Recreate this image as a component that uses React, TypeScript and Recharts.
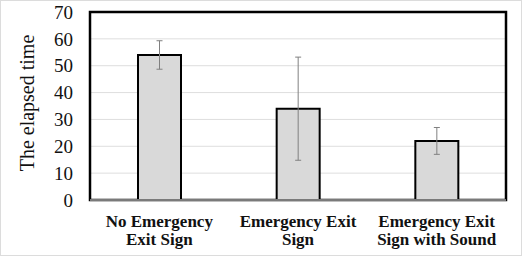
import React from "react";
import {
  BarChart,
  Bar,
  XAxis,
  YAxis,
  CartesianGrid,
  ErrorBar,
  ReferenceArea,
} from "recharts";

// Mean elapsed time per condition, with the spread shown as error bars
const categoryLines: string[][] = [
  ["No Emergency", "Exit Sign"],
  ["Emergency Exit", "Sign"],
  ["Emergency Exit", "Sign with Sound"],
];
const elapsedMeans = [54, 34, 22];
const elapsedErrors = [5.3, 19.2, 5];
const yTicks = [0, 10, 20, 30, 40, 50, 60, 70];

const data = categoryLines.map((lines, i) => ({
  name: lines.join("\n"),
  mean: elapsedMeans[i],
  err: elapsedErrors[i],
}));

const SERIF = '"Liberation Serif", "Times New Roman", Times, serif';

function CategoryTick(props: any) {
  const { x, y, payload } = props;
  const lines = String(payload.value).split("\n");
  return (
    <g>
      {lines.map((line: string, i: number) => (
        <text
          key={i}
          x={x}
          y={y + 27 + i * 18}
          textAnchor="middle"
          fontFamily={SERIF}
          fontSize={17}
          fontWeight="bold"
          fill="#111"
        >
          {line}
        </text>
      ))}
    </g>
  );
}

export default function App() {
  return (
    <div
      style={{
        position: "absolute",
        left: 0,
        top: 0,
        width: 522,
        height: 256,
        border: "1px solid #dcdcdc",
        boxSizing: "border-box",
        background: "#fff",
      }}
    >
      <BarChart
        width={520}
        height={254}
        data={data}
        margin={{ top: 11, right: 15, bottom: 0, left: 0 }}
      >
        <CartesianGrid vertical={false} stroke="#dedede" strokeWidth={1} />
        <XAxis
          dataKey="name"
          height={55}
          tickLine={false}
          tickSize={0}
          tickMargin={0}
          axisLine={{ stroke: "#7a7a7a", strokeWidth: 2 }}
          tick={<CategoryTick />}
          interval={0}
        />
        <YAxis
          width={89}
          domain={[0, 70]}
          ticks={yTicks}
          interval={0}
          axisLine={false}
          tickLine={false}
          tickSize={0}
          tickMargin={17}
          tick={{ fontFamily: SERIF, fontSize: 19, fill: "#111" }}
          label={({ viewBox }: any) => {
            const cx = (viewBox?.x ?? 0) + 26;
            const cy = (viewBox?.y ?? 0) + (viewBox?.height ?? 0) / 2 - 3;
            return (
              <text
                x={cx}
                y={cy}
                transform={`rotate(-90 ${cx} ${cy})`}
                textAnchor="middle"
                dominantBaseline="central"
                fontFamily={SERIF}
                fontSize={20}
                fill="#111"
              >
                The elapsed time
              </text>
            );
          }}
        />
        <ReferenceArea
          y1={0}
          y2={70}
          fill="none"
          stroke="#000"
          strokeWidth={2.5}
          ifOverflow="visible"
        />
        <Bar
          dataKey="mean"
          barSize={43}
          fill="#d9d9d9"
          stroke="#000"
          strokeWidth={2}
          isAnimationActive={false}
        >
          <ErrorBar
            dataKey="err"
            width={3}
            stroke="#808080"
            strokeWidth={1}
            direction="y"
          />
        </Bar>
      </BarChart>
    </div>
  );
}
